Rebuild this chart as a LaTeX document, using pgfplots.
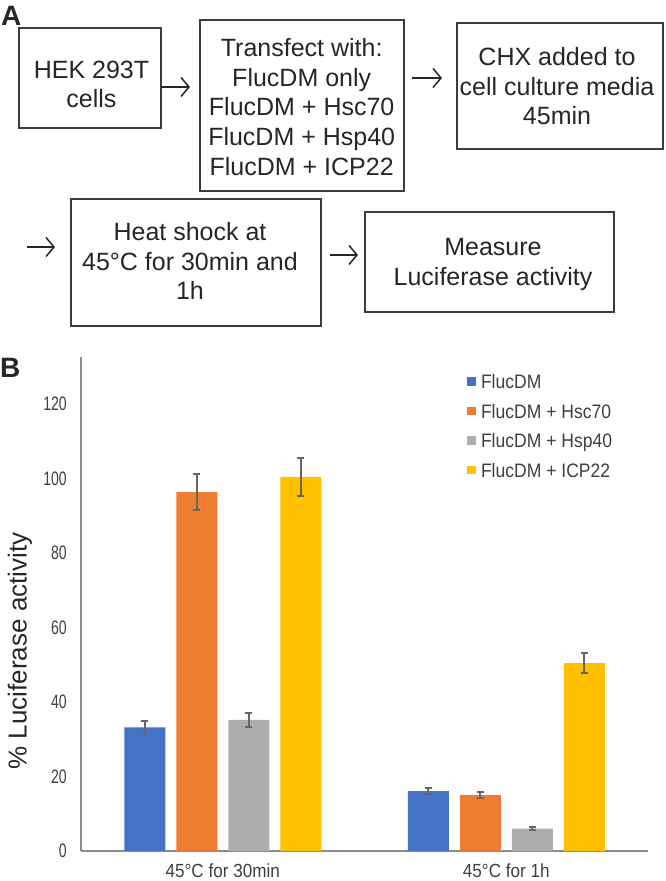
\documentclass[border=0pt]{standalone}
\usepackage{pgfplots}
\pgfplotsset{compat=1.18}
\usepackage{fontspec}
\setmainfont{Liberation Sans}
\newfontfamily\narrowfont[FakeStretch=0.72]{Liberation Sans}
\newfontfamily\catfont[FakeStretch=0.9]{Liberation Sans}
\usetikzlibrary{arrows.meta}
\definecolor{cblue}{HTML}{4472C4}
\definecolor{corange}{HTML}{ED7D31}
\definecolor{cgray}{HTML}{ADADAD}
\definecolor{cyellow}{HTML}{FFC000}
\definecolor{errc}{HTML}{666666}
\definecolor{axc}{HTML}{8C8C8C}
\definecolor{txt}{HTML}{262626}
\definecolor{ticktxt}{HTML}{404040}
\newcommand\tl[3]{\node[anchor=base,inner sep=0pt,text=txt,font=\fontsize{25}{30}\selectfont] at (#1,#2) {#3};}
\begin{document}
\begin{tikzpicture}[x=1pt,y=1pt]
\path[use as bounding box] (0,0) rectangle (666,881);
% panel labels
\node[anchor=base west,inner sep=0pt,text=txt,font=\bfseries\fontsize{28}{30}\selectfont] at (1,855) {A};
\node[anchor=base west,inner sep=0pt,text=txt,font=\bfseries\fontsize{28}{30}\selectfont] at (0,503) {B};
% boxes
\begin{scope}[draw=txt!90, line width=1.6pt]
\draw (19,853) rectangle (161,753);
\draw (200,861) rectangle (404,690);
\draw (457,858) rectangle (663,732);
\draw (71,682) rectangle (321,555);
\draw (365,669) rectangle (614,569);
\end{scope}
\begin{scope}[draw=txt, line width=1.5pt, -{Straight Barb[length=8pt,width=19pt,line width=1.5pt]}]
\draw (161,794) -- (190,794);
\draw (412,803) -- (442,803);
\draw (27,634) -- (55,634);
\draw (330,626) -- (358,626);
\end{scope}
\tl{91.5}{802}{HEK 293T}
\tl{91.5}{773}{cells}
\tl{301.7}{824.3}{Transfect with:}
\tl{301.7}{794.6}{FlucDM only}
\tl{301.7}{765}{FlucDM + Hsc70}
\tl{301.7}{735.2}{FlucDM + Hsp40}
\tl{301.7}{705.5}{FlucDM + ICP22}
\tl{557}{815.3}{CHX added to}
\tl{557}{785.6}{cell culture media}
\tl{557}{756}{45min}
\tl{190}{640.3}{Heat shock at}
\tl{190}{610.6}{45°C for 30min and}
\tl{190}{581}{1h}
\tl{493}{625.3}{Measure}
\tl{493}{595}{Luciferase activity}
% chart
\begin{axis}[
  at={(81pt,30pt)}, anchor=south west,
  scale only axis, width=567pt, height=494pt,
  xmin=-0.5, xmax=1.5, ymin=0, ymax=132.6,
  axis x line=bottom, axis y line=left,
  axis line style={-, draw=axc, line width=1.3pt},
  major tick length=0pt,
  xtick={0,1}, xticklabels={45°C for 30min, 45°C for 1h},
  ytick={0,20,40,60,80,100,120},
  /pgf/number format/assume math mode=true,
  yticklabel style={font=\narrowfont\fontsize{19.5}{20}\selectfont, text=ticktxt, inner sep=0pt},
  xticklabel style={font=\catfont\fontsize{19}{20}\selectfont, text=ticktxt, inner sep=0pt},
  yticklabel shift=14pt,
  xticklabel shift=13pt,
  ylabel={\% Luciferase activity},
  ylabel style={at={(axis description cs:-0.1076,0.405)}, anchor=center, font=\fontsize{26}{28}\selectfont, text=txt},
  ybar=11pt, bar width=41pt,
  legend style={at={(axis description cs:0.6808,0.9636)}, anchor=north west, draw=none, fill=none,
    inner sep=0pt, outer sep=0pt, row sep=15.4pt,
    font=\catfont\fontsize{19.5}{20}\selectfont, text=ticktxt,
    nodes={inner sep=0pt, text height=14pt, text depth=0pt},
    /tikz/every odd column/.append style={column sep=5pt}},
  legend cell align=left,
  legend image code/.code={\draw[#1,draw=none] (0pt,-4pt) rectangle (9pt,4.5pt);},
  error bars/y dir=both, error bars/y explicit,
  error bars/error bar style={line width=2pt, draw=errc},
  error bars/error mark options={rotate=90, line width=2pt, mark size=3.5pt, draw=errc},
]
\addplot[fill=cblue, draw=none] coordinates {(0,33.2) +- (0,1.6) (1,16.1) +- (0,0.9)};
\addplot[fill=corange, draw=none] coordinates {(0,96.3) +- (0,4.8) (1,15.0) +- (0,0.9)};
\addplot[fill=cgray, draw=none] coordinates {(0,35.2) +- (0,1.9) (1,6.0) +- (0,0.4)};
\addplot[fill=cyellow, draw=none] coordinates {(0,100.4) +- (0,5.0) (1,50.4) +- (0,2.7)};
\legend{FlucDM, FlucDM + Hsc70, FlucDM + Hsp40, FlucDM + ICP22}
\end{axis}
\end{tikzpicture}
\end{document}
